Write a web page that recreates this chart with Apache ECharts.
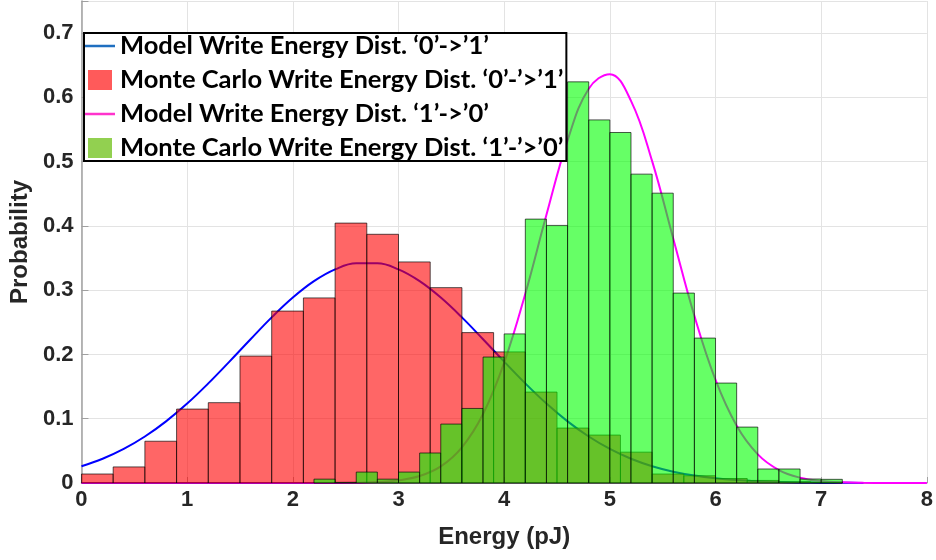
<!DOCTYPE html>
<html>
<head>
<meta charset="utf-8">
<script src="https://cdn.jsdelivr.net/npm/echarts@6/dist/echarts.min.js"></script>
<style>html,body{margin:0;padding:0;background:#fff}#c{width:936px;height:560px}</style>
</head>
<body>
<div id="c"></div>
<script>
// ---- data ----
const xTicks = [0, 1, 2, 3, 4, 5, 6, 7, 8];
const yTicks = [0, 0.1, 0.2, 0.3, 0.4, 0.5, 0.6, 0.7];

const seriesNames = [
  "Model Write Energy Dist. \u20180\u2019->\u20191\u2019",
  "Monte Carlo Write Energy Dist. \u20180\u2019-\u2019>\u20191\u2019",
  "Model Write Energy Dist. \u20181\u2019->\u20190\u2019",
  "Monte Carlo Write Energy Dist. \u20181\u2019-\u2019>\u20190\u2019"
];

// Monte Carlo '0'->'1' histogram (bin edges, heights)
const redEdges = [0, 0.3, 0.6, 0.9, 1.2, 1.5, 1.8, 2.1, 2.4, 2.7, 3.0, 3.3, 3.6, 3.9, 4.2, 4.5, 4.8, 5.1, 5.4, 5.7, 6.0, 6.3, 6.6, 6.9, 7.2];
const redHeights = [0.014, 0.025, 0.065, 0.115, 0.125, 0.1975, 0.2675, 0.288, 0.4044, 0.387, 0.344, 0.304, 0.234, 0.204, 0.1415, 0.0855, 0.0746, 0.048, 0.014, 0.0113, 0.007, 0.004, 0.002, 0.001];

// Monte Carlo '1'->'0' histogram (bin edges, heights)
const greenEdges = [2.2, 2.4, 2.6, 2.8, 3.0, 3.2, 3.4, 3.6, 3.8, 4.0, 4.2, 4.4, 4.6, 4.8, 5.0, 5.2, 5.4, 5.6, 5.8, 6.0, 6.2, 6.4, 6.6, 6.8, 7.0, 7.2];
const greenHeights = [0.006, 0.001, 0.017, 0.006, 0.017, 0.0467, 0.0917, 0.116, 0.196, 0.232, 0.4106, 0.4008, 0.6242, 0.565, 0.5454, 0.4806, 0.451, 0.2955, 0.2255, 0.1555, 0.087, 0.0218, 0.0218, 0.0062, 0.0057];

// Model '0'->'1' curve
const blueX = [0, 0.2, 0.4, 0.6, 0.8, 1.0, 1.2, 1.4, 1.6, 1.8, 2.0, 2.2, 2.4, 2.6, 2.8, 3.0, 3.2, 3.4, 3.6, 3.8, 4.0, 4.2, 4.4, 4.6, 4.8, 5.0, 5.2, 5.4, 5.6, 5.8, 6.0, 6.2, 6.4, 6.6, 6.8, 7.0, 7.2, 7.4];
const blueY = [0.0261, 0.0377, 0.053, 0.0723, 0.0959, 0.1236, 0.155, 0.1889, 0.2237, 0.2577, 0.2885, 0.314, 0.3323, 0.3418, 0.3418, 0.3323, 0.314, 0.2885, 0.2577, 0.2237, 0.1889, 0.155, 0.1236, 0.0959, 0.0723, 0.053, 0.0377, 0.0261, 0.0176, 0.0115, 0.0073, 0.0045, 0.0027, 0.0016, 0.0009, 0.0005, 0.0003, 0.0001];

// Model '1'->'0' curve
const magX = [0, 0.5, 1.0, 1.5, 2.0, 2.4, 2.6, 2.8, 3.0, 3.2, 3.4, 3.6, 3.8, 4.0, 4.2, 4.4, 4.6, 4.8, 5.0, 5.2, 5.4, 5.6, 5.8, 6.0, 6.2, 6.4, 6.6, 6.8, 7.0, 7.2, 7.4, 7.6, 8.0];
const magY = [0, 0, 0, 0, 0, 0.0001, 0.0004, 0.0014, 0.0041, 0.0108, 0.0258, 0.0555, 0.1073, 0.1873, 0.2946, 0.4174, 0.5331, 0.6135, 0.6362, 0.5946, 0.5008, 0.3802, 0.26, 0.1603, 0.089, 0.0445, 0.0201, 0.0082, 0.003, 0.001, 0.0003, 0.0001, 0];

// ---- build chart ----
function bins(edges, heights) {
  return heights.map((h, i) => [edges[i], edges[i + 1], h]);
}
function pairs(xs, ys) { return xs.map((x, i) => [x, ys[i]]); }

function histRender(fill) {
  return function (params, api) {
    const p0 = api.coord([api.value(0), 0]);
    const p1 = api.coord([api.value(1), api.value(2)]);
    return {
      type: 'rect',
      shape: { x: p0[0], y: p1[1], width: p1[0] - p0[0], height: p0[1] - p1[1] },
      style: { fill: fill, stroke: 'rgba(0,0,0,0.65)', lineWidth: 1 }
    };
  };
}

const tickFont = "'Liberation Sans', Arial, sans-serif";
const chart = echarts.init(document.getElementById('c'), null, { renderer: 'canvas' });
chart.setOption({
  animation: false,
  backgroundColor: '#ffffff',
  grid: { left: 78, right: 6, top: 1, bottom: 77, containLabel: false },
  xAxis: {
    type: 'value', min: xTicks[0], max: xTicks[xTicks.length - 1], interval: 1,
    name: 'Energy (pJ)', nameLocation: 'middle', nameGap: 42,
    nameTextStyle: { fontFamily: tickFont, fontWeight: 'bold', fontSize: 24, color: '#262626' },
    axisLine: { show: true, lineStyle: { color: '#a0a0a0', width: 1.5 } },
    axisTick: { show: true, inside: true, length: 6, lineStyle: { color: '#a0a0a0' } },
    axisLabel: { fontFamily: tickFont, fontWeight: 'bold', fontSize: 22, color: '#262626', margin: 6 },
    splitLine: { show: true, lineStyle: { color: '#e3e3e3', width: 1 } }
  },
  yAxis: {
    type: 'value', min: 0, max: 0.75, interval: 0.1,
    name: 'Probability', nameLocation: 'middle', nameGap: 47,
    nameTextStyle: { fontFamily: tickFont, fontWeight: 'bold', fontSize: 24, color: '#262626' },
    axisLine: { show: true, lineStyle: { color: '#a0a0a0', width: 1.5 } },
    axisTick: { show: true, inside: true, length: 7, lineStyle: { color: '#a0a0a0' } },
    axisLabel: {
      fontFamily: tickFont, fontWeight: 'bold', fontSize: 22, color: '#262626', margin: 8,
      formatter: function (v) {
        const t = yTicks.find(k => Math.abs(k - v) < 1e-6);
        if (t === undefined) return '';
        return t === 0 ? '0' : t.toFixed(1);
      }
    },
    splitLine: { show: true, lineStyle: { color: '#e3e3e3', width: 1 } }
  },
  legend: {
    show: true, orient: 'vertical', left: 84, top: 33,
    backgroundColor: '#ffffff', borderColor: '#000000', borderWidth: 2, borderRadius: 0,
    padding: [0, 3, 0, 1], itemGap: 8, itemWidth: 30, itemHeight: 20,
    textStyle: { fontFamily: "Lato, 'Open Sans', sans-serif", fontWeight: 'bold', fontSize: 25.5, lineHeight: 23, color: '#000000' },
    data: [
      { name: seriesNames[0], icon: 'path://M0,9H30V11.5H0Z', itemStyle: { color: '#1f6fc0' } },
      { name: seriesNames[1], icon: 'path://M3,0H27V20H3Z', itemStyle: { color: '#ff5a5a' } },
      { name: seriesNames[2], icon: 'path://M0,9H30V11.5H0Z', itemStyle: { color: '#ff33cc' } },
      { name: seriesNames[3], icon: 'path://M3,0H27V20H3Z', itemStyle: { color: '#92d050' } }
    ]
  },
  series: [
    {
      name: seriesNames[0], type: 'line', data: pairs(blueX, blueY), smooth: 0.4,
      symbol: 'none', lineStyle: { color: '#0000ff', width: 2 }, itemStyle: { color: '#0000ff' }, z: 1
    },
    {
      name: seriesNames[2], type: 'line', data: pairs(magX, magY), smooth: 0.4,
      symbol: 'none', lineStyle: { color: '#ff00ff', width: 2 }, itemStyle: { color: '#ff00ff' }, z: 1
    },
    {
      name: seriesNames[1], type: 'custom', renderItem: histRender('rgba(255,0,0,0.6)'),
      data: bins(redEdges, redHeights), encode: { x: [0, 1], y: 2 },
      itemStyle: { color: '#ff5a5a' }, z: 2
    },
    {
      name: seriesNames[3], type: 'custom', renderItem: histRender('rgba(0,255,0,0.6)'),
      data: bins(greenEdges, greenHeights), encode: { x: [0, 1], y: 2 },
      itemStyle: { color: '#92d050' }, z: 3
    }
  ]
});
</script>
</body>
</html>
